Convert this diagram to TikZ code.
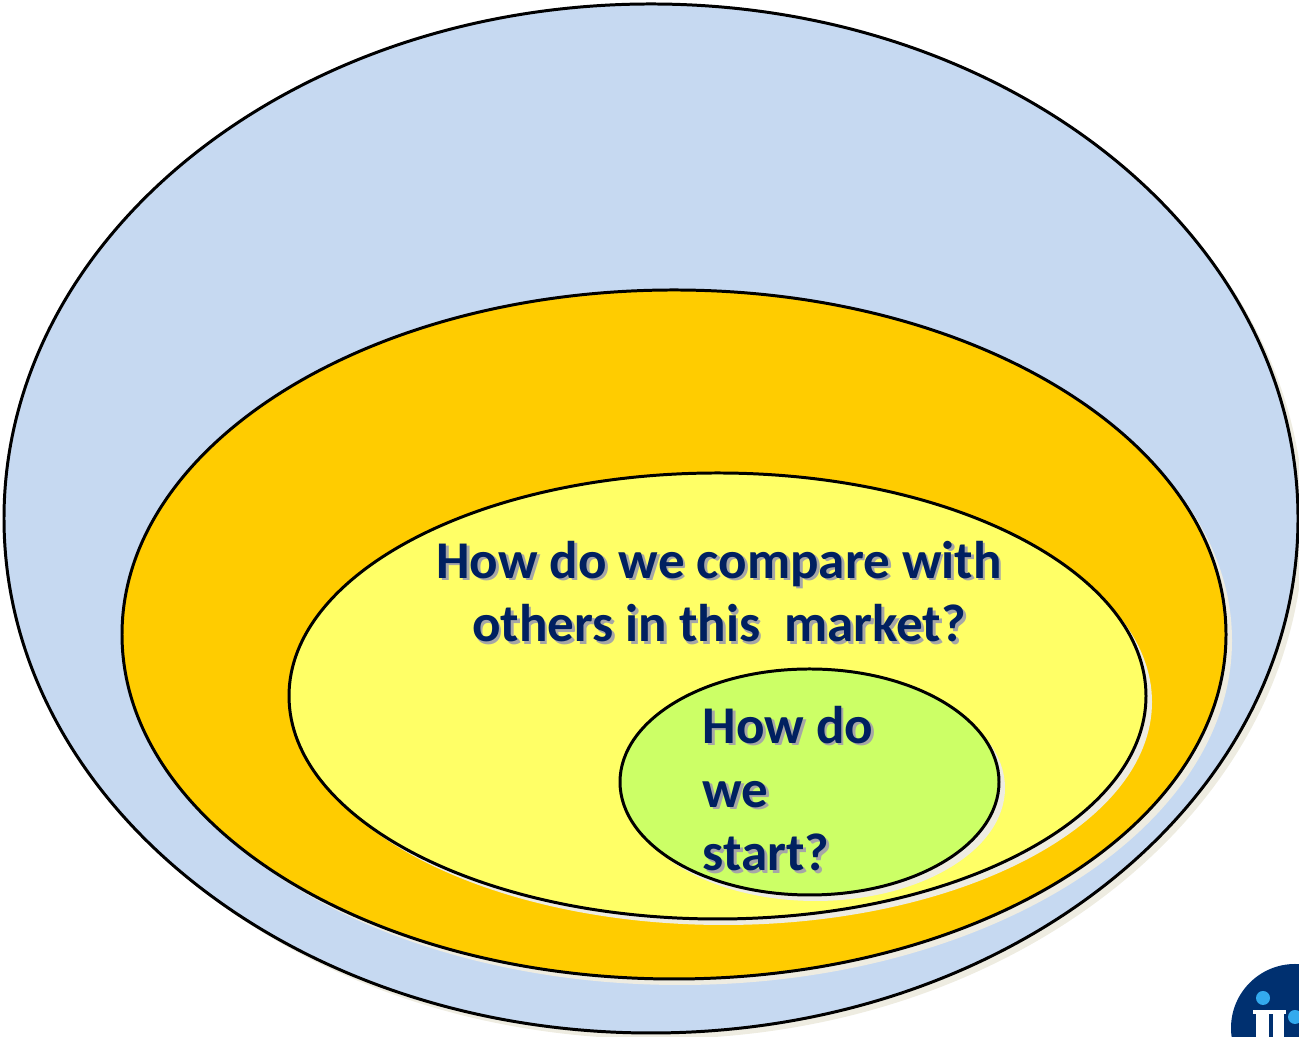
\documentclass[tikz,border=0pt]{standalone}
\usepackage{fontspec}
\setmainfont{Carlito}
\usepackage{xcolor}
\definecolor{skyfill}{HTML}{C6D9F1}
\definecolor{orangefill}{HTML}{FFCC00}
\definecolor{yellowfill}{HTML}{FFFF66}
\definecolor{greenfill}{HTML}{CCFF66}
\definecolor{shadowfill}{HTML}{EEECE1}
\definecolor{navytext}{HTML}{002060}
\definecolor{logonavy}{HTML}{003070}
\definecolor{logodot}{HTML}{33AAEE}
\newcommand{\softshadow}[1]{\rlap{\kern0.8pt\raisebox{-0.8pt}{\textcolor{black!35}{#1}}}#1}
\tikzset{
	oval/.style={draw=black, line width=0.85pt},
	ovalshadow/.style={fill=shadowfill, xshift=0.06cm, yshift=-0.06cm},
	question/.style={text=navytext, font=\fontsize{15.1pt}{18.2pt}\selectfont\bfseries, inner sep=0pt}
}
\begin{document}
\begin{tikzpicture}
		\useasboundingbox (0,0) rectangle (12.99,10.37);
		\clip (0,0) rectangle (12.99,10.37);
		% тени
		\fill [ovalshadow] (6.51,5.185) ellipse [x radius=6.47, y radius=5.145];
		% овалы
		\draw [oval, fill=skyfill] (6.51,5.185) ellipse [x radius=6.47, y radius=5.145];
		\fill [ovalshadow] (6.74,4.025) ellipse [x radius=5.52, y radius=3.445];
		\draw [oval, fill=orangefill] (6.74,4.025) ellipse [x radius=5.52, y radius=3.445];
		\fill [ovalshadow] (7.175,3.41) ellipse [x radius=4.285, y radius=2.23];
		\draw [oval, fill=yellowfill] (7.175,3.41) ellipse [x radius=4.285, y radius=2.23];
		\fill [ovalshadow] (8.095,2.55) ellipse [x radius=1.895, y radius=1.13];
		\draw [oval, fill=greenfill] (8.095,2.55) ellipse [x radius=1.895, y radius=1.13];
		% подписи
		\node [question, align=center] (compare) at (7.19,4.44) {\softshadow{How do we compare with}\\ \softshadow{others in this\ \ market?}};
		\node [question, align=left, anchor=west] (start) at (7.02,2.47) {\softshadow{How do}\\ \softshadow{we}\\ \softshadow{start?}};
		% логотип
		\fill [logonavy] (12.95,0.09) circle [radius=0.64];
		\fill [white] (12.56,0.24) rectangle (12.69,0);
		\fill [white] (12.73,0.24) rectangle (12.84,0);
		\fill [white] (12.53,0.27) rectangle (12.86,0.23);
		\fill [logodot] (12.63,0.39) circle [radius=0.07];
		\fill [logodot] (12.95,0.2) circle [radius=0.07];
		\end{tikzpicture}
\end{document}
